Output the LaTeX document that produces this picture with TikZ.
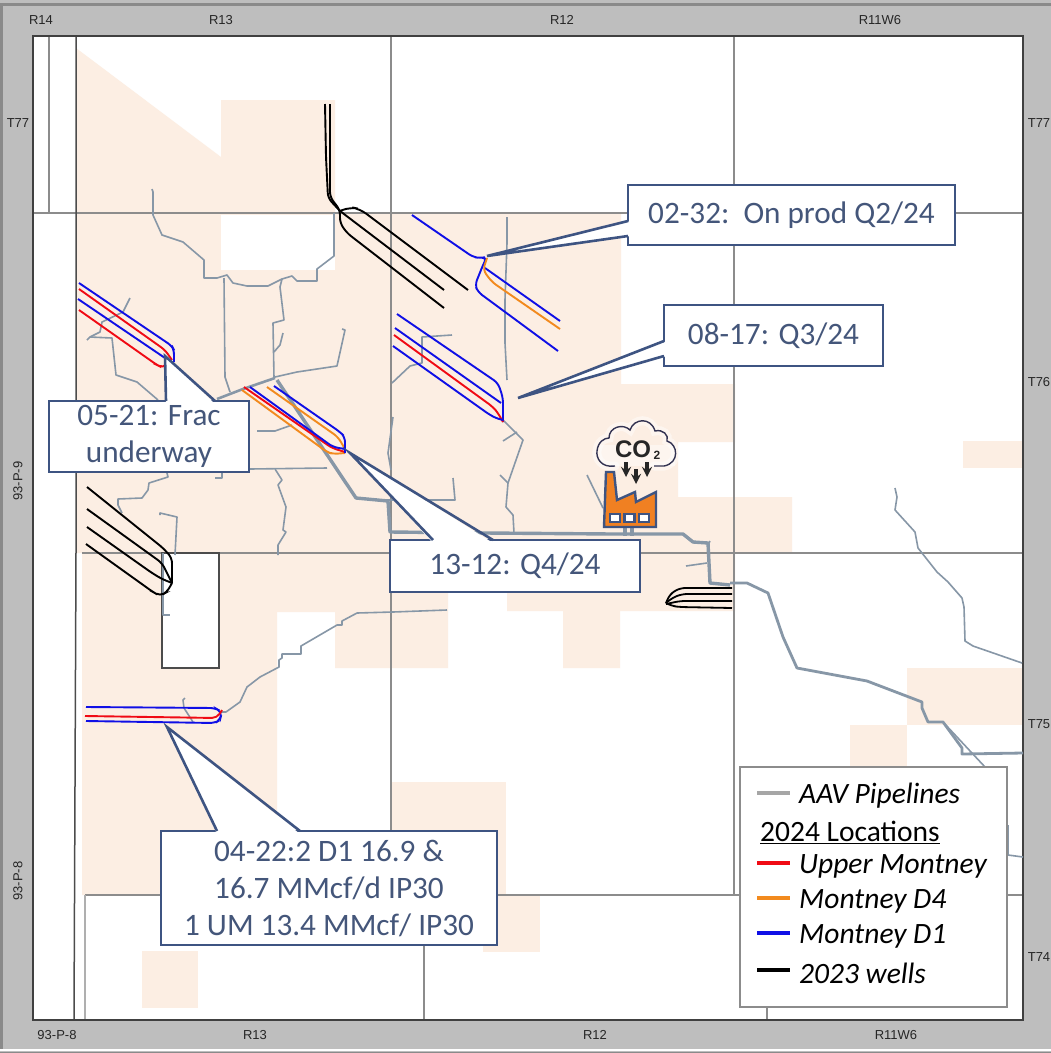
\documentclass[tikz,border=0pt]{standalone}
\usepackage{fontspec}
\setmainfont{Carlito}
\newfontfamily\mapfont{Liberation Sans}
\definecolor{frameg}{HTML}{BEBEBE}
\definecolor{edgeg}{HTML}{8A8A8A}
\definecolor{gridg}{HTML}{8C8C8C}
\definecolor{landc}{HTML}{FCEEE3}
\definecolor{pipec}{HTML}{8797A7}
\definecolor{calloutc}{HTML}{3E5482}
\definecolor{callouttext}{HTML}{44567A}
\definecolor{wellblue}{HTML}{0F0FE6}
\definecolor{wellred}{HTML}{F00A14}
\definecolor{wellorange}{HTML}{F28A1E}
\definecolor{factoryc}{HTML}{F08022}
\tikzset{>=stealth}
\tikzset{
  grid/.style={draw=gridg, line width=1.8pt},
  pipe/.style={draw=pipec, line width=1.6pt, line join=round},
  mainpipe/.style={draw=pipec, line width=3.4pt, line join=round},
  well/.style={line width=1.9pt, rounded corners=5pt},
  calloutbox/.style={draw=calloutc, fill=white, line width=2.6pt, outer sep=0pt, inner sep=0pt,
    text=callouttext, align=center, font=\fontsize{31.2}{37}\selectfont},
  wedgeline/.style={draw=calloutc, line width=2.6pt, line join=miter},
  maplabel/.style={font=\mapfont\fontsize{13}{15}\selectfont, text=black!85},
  legendtext/.style={anchor=west, inner sep=0pt, font=\fontsize{29.5}{34}\selectfont\itshape},
}
\newcommand{\calloutwedge}[5]{
  \fill[white] ([#2,#4]#1) -- (#5) -- ([#3,#4]#1) -- cycle;
  \draw[wedgeline] ([#2]#1) -- (#5) -- ([#3]#1);
}
\newcommand{\cloudpath}{(615,466) .. controls (601,468) and (596,458) .. (597,451)
  .. controls (598,442) and (604,438) .. (609,438)
  .. controls (609,427) and (623,423) .. (630,430)
  .. controls (634,418) and (651,417) .. (655,431)
  .. controls (663,429) and (669,435) .. (667,441)
  .. controls (678,444) and (680,463) .. (664,466) -- (654,466)}
\begin{document}
\begin{tikzpicture}[x=1pt,y=-1pt]
\useasboundingbox (0,0) rectangle (1051,1053);
\fill[frameg] (0,0) rectangle (1051,1053);
\draw[edgeg, line width=3pt] (1.5,1049) -- (1.5,4.5) -- (1051,4.5);
\draw[white, line width=1.5pt] (0,1050) -- (1051,1050);
\draw[edgeg, line width=1.5pt] (0,1052.5) -- (1051,1052.5);
\fill[white] (33,36) rectangle (1023,1020);
% land blocks
\fill[landc] (76,48) -- (221,157) -- (221,100) -- (335,100) -- (335,213) -- (621,213) -- (621,384)
  -- (735,384) -- (735,442) -- (678,442) -- (678,497) -- (792,497) -- (792,553) -- (735,553)
  -- (735,611) -- (620,611) -- (620,668) -- (563,668) -- (563,611) -- (507,611) -- (507,590)
  -- (448,590) -- (448,668) -- (335,668) -- (335,612) -- (277,612) -- (277,895) -- (82,895)
  -- (82,553) -- (76,553) -- cycle;
\fill[white] (221,215) rectangle (335,270);
\fill[landc] (392,782) rectangle (506,895);
\fill[landc] (483,895) rectangle (540,952);
\fill[landc] (142,951) rectangle (198,1008);
\fill[landc] (963,441) rectangle (1023,468);
\fill[landc] (907,668) rectangle (1023,725);
\fill[landc] (850,725) rectangle (907,782);
% township and range lines
\draw[grid] (33,213) -- (1023,213);
\draw[grid] (82,553) -- (1023,553);
\draw[grid] (85,895) -- (1023,895);
\draw[grid] (49,36) -- (49,213);
\draw[grid] (391,36) -- (391,895);
\draw[grid] (734,36) -- (734,895);
\draw[grid] (424,895) -- (424,1020);
\draw[grid] (767,895) -- (767,1020);
\draw[grid, draw=gridg!70] (85,895) -- (85,1020);
\draw[draw=black!70, line width=1.5pt] (76,36) -- (76,553) -- (74,1020);
\draw[draw=black!70, line width=1.4pt, fill=white] (162,553) rectangle (219,668);
\draw[draw=black!75, line width=1.5pt] (33,36) rectangle (1023,1020);
% pipelines
\draw[pipe] (152,189) -- (153,192) -- (153,215) -- (162,235) -- (183,242) -- (204,260) -- (204,278)
  -- (217,278) -- (227,275) -- (233,283) -- (247,286) -- (268,286) -- (282,279) -- (292,276)
  -- (297,281) -- (317,281) -- (317,269) -- (334,256) -- (334,213);
\draw[pipe] (224,278) -- (225,377) -- (230,392);
\draw[pipe] (282,279) -- (280,287) -- (284,320) -- (273,323) -- (274,378);
\draw[pipe] (274,352) -- (280,345) -- (283,333);
\draw[pipe] (275,377) -- (297,372) -- (337,366) -- (345,330) -- (342,329);
\draw[pipe] (130,298) -- (123,312) -- (102,322) -- (100,332) -- (90,337) -- (87,340);
\draw[pipe] (90,337) -- (112,338) -- (116,375) -- (137,382) -- (158,400);
\draw[pipe] (257,431) -- (275,431) -- (292,425);
\draw[pipe] (250,469) -- (327,468);
\draw[pipe] (275,469) -- (282,480) -- (278,485) -- (286,507) -- (283,530) -- (286,532) -- (278,545) -- (278,555);
\draw[pipe] (167,473) -- (168,477) -- (149,483) -- (148,490) -- (142,498) -- (118,499) -- (118,505) -- (122,513);
\draw[pipe] (160,515) -- (160,513) -- (177,517) -- (175,555);
\draw[pipe] (215,478) -- (222,478) -- (222,473);
\draw[pipe] (163,553) -- (163,615) -- (170,615);
\draw[pipe] (447,610) -- (393,612) -- (357,613) -- (342,621) -- (342,625) -- (337,625) -- (301,646)
  -- (301,654) -- (282,654) -- (282,658) -- (279,660) -- (279,667) -- (260,677) -- (247,687)
  -- (240,702) -- (226,712) -- (220,712);
\draw[pipe] (185,698) -- (183,700) -- (184,708) -- (193,722);
\draw[pipe] (507,217) -- (507,243) -- (505,300) -- (505,343) -- (507,380);
\draw[pipe] (503,420) -- (523,440) -- (508,483) -- (506,507) -- (513,515) -- (514,533);
\draw[pipe] (503,441) -- (517,432);
\draw[pipe] (500,475) -- (508,483);
\draw[pipe] (452,335) -- (422,337) -- (422,363) -- (410,366) -- (392,383);
\draw[pipe] (393,417) -- (388,453) -- (391,470);
\draw[pipe] (380,500) -- (455,500) -- (453,478);
\draw[pipe] (587,475) -- (603,508);
\draw[pipe] (686,566) -- (707,563);
\draw[pipe] (708,545) -- (710,541);
\draw[pipe] (895,488) -- (897,497) -- (895,510) -- (915,532) -- (918,548) -- (937,572) -- (948,582)
  -- (962,598) -- (964,607) -- (965,641) -- (973,646) -- (1022,663);
\draw[pipe] (943,722) -- (985,767);
\draw[pipe] (1008,825) -- (1008,855) -- (1023,857);
\draw[mainpipe, line width=2.6pt] (217,399) -- (243,389) -- (275,378);
\draw[mainpipe] (277,380) -- (356,498) -- (388,501) -- (390,532) -- (485,533) -- (613,534) -- (683,534)
  -- (693,542) -- (708,543) -- (710,583) -- (730,585);
\draw[mainpipe, line width=2.8pt] (730,583) -- (747,583) -- (768,593) -- (783,637) -- (797,668)
  -- (867,681) -- (922,702) -- (922,708) -- (928,722) -- (943,722) -- (962,748) -- (962,754) -- (1023,753);
\draw[mainpipe] (625,528) -- (625,536);
\draw[mainpipe] (632,528) -- (632,536);
% 2023 wells
\draw[well] (325,104) -- (326,157) -- (328,198) -- (340,211) -- (444,290);
\draw[well] (330,104) -- (330,197) -- (340,210) -- (340,223) -- (347,233) -- (444,308);
\draw[well, rounded corners=8pt] (340,211) -- (350,207) -- (360,209) -- (468,290);
\draw[well] (87,487) -- (163,548) -- (172,558) -- (172,583);
\draw[well] (87,509) -- (162,563) -- (172,583);
\draw[well] (87,527) -- (152,573) -- (162,579) -- (172,583);
\draw[well] (86,544) -- (153,592) -- (160,596) -- (167,592) -- (172,583);
\draw[well, line width=1.8pt] (732,588) -- (680,588) -- (670,594) -- (666,603);
\draw[well, line width=1.8pt] (732,594) -- (682,594) -- (672,598) -- (666,603);
\draw[well, line width=1.8pt] (732,601) -- (680,601) -- (666,604);
\draw[well, line width=1.8pt] (732,608) -- (680,607) -- (672,606) -- (666,603);
% 2024 locations
\draw[well, wellblue] (412,215) -- (473,257) -- (480,258) -- (487,257) -- (483,265) -- (475,285) -- (478,292) -- (558,351);
\draw[well, wellblue] (485,268) -- (560,321);
\draw[well, wellorange] (487,258) -- (483,270) -- (492,282) -- (560,329);
\draw[well, wellblue] (397,314) -- (498,383) -- (503,398) -- (503,422);
\draw[well, wellblue] (395,328) -- (501,403);
\draw[well, wellred] (394,335) -- (493,407) -- (498,413) -- (503,422);
\draw[well, wellblue] (393,346) -- (490,415) -- (498,419) -- (503,420);
\draw[well, wellblue] (79,283) -- (172,346) -- (174,350) -- (174,362);
\draw[well, wellred] (79,289) -- (165,350) -- (172,360);
\draw[well, wellblue] (78,299) -- (165,358);
\draw[well, wellred] (79,310) -- (157,365) -- (163,368) -- (170,362);
\draw[well, wellorange] (242,390) -- (327,452) -- (333,454) -- (345,453);
\draw[well, wellorange] (267,387) -- (338,437) -- (345,449);
\draw[well, wellred] (244,387) -- (332,448) -- (345,452);
\draw[well, wellblue] (250,387) -- (333,447) -- (345,449);
\draw[well, wellblue] (274,386) -- (340,432) -- (345,437) -- (345,453);
\draw[well, wellblue] (86,707) -- (215,708) -- (222,712) -- (220,720) -- (215,723) -- (86,721);
\draw[well, wellred] (85,716) -- (217,718) -- (222,710);
% margin labels
\foreach \t/\x in {R14/41, R13/221, R12/562, R11W6/880}
  \node[maplabel] at (\x,20) {\t};
\foreach \t/\x in {93-P-8/57, R13/255, R12/595, R11W6/896}
  \node[maplabel] at (\x,1035) {\t};
\foreach \t/\y in {T77/123, T76/382, T75/724, T74/957}
  \node[maplabel] at (1039,\y) {\t};
\node[maplabel] at (18,123) {T77};
\node[maplabel, rotate=90] at (18,481) {93-P-9};
\node[maplabel, rotate=90] at (18,881) {93-P-8};
% legend
\node[draw=gridg, fill=white, line width=2pt, minimum width=267pt, minimum height=240pt, inner sep=0pt] (legendbox) at (873.5,887) {};
\foreach \c/\t/\y in {black!35/AAV Pipelines/796, wellred/Upper Montney/866, wellorange/Montney D4/901, wellblue/Montney D1/936, black/2023 wells/973}{
  \node[legendtext] (legendrow) at (799,\y) {\t};
  \draw[\c, line width=4pt] ([xshift=-42pt,yshift=3pt]legendrow.west) -- ++(33,0);
}
\node[legendtext, font=\fontsize{29.5}{34}\selectfont] at (760,832) {\underline{2024 Locations}};
% factory
\draw[white, opacity=.45, line width=9pt, line cap=round] \cloudpath;
\fill[white, opacity=.45] (600,466) -- (600,445) -- (675,445) -- (675,466) -- cycle;
\draw[black!80!blue!60!gray, line width=1.4pt] \cloudpath;
\node[font=\mapfont\bfseries\fontsize{24}{26}\selectfont, text=black!85, inner sep=0pt] at (633,449) {CO};
\node[font=\mapfont\bfseries\fontsize{12}{14}\selectfont, text=black!85, inner sep=0pt] at (657,455) {2};
\foreach \x/\y in {626/462, 636/469, 647/462}
  \draw[->, black!85, line width=3.4pt] (\x,\y) -- ++(0,15);
\draw[fill=factoryc, draw=calloutc, line width=2.4pt, line join=miter] (604,527) -- (606,472) -- (614,472)
  -- (617,500) -- (635,492) -- (636,502) -- (656,492) -- (656,527) -- cycle;
\foreach \x in {615,629.5,644}
  \draw[fill=white, draw=calloutc, line width=2.6pt] (\x-5,514) rectangle (\x+5,522);
% callouts
\node[calloutbox, minimum width=327pt, minimum height=60pt] (box32) at (791.5,215) {02-32:\ \ On prod Q2/24};
\node[calloutbox, minimum width=219pt, minimum height=61pt] (box17) at (773.5,335.5) {08-17: Q3/24};
\node[calloutbox, minimum width=200pt, minimum height=71pt] (box21) at (149,436.5) {05-21: Frac\\underway};
\node[calloutbox, minimum width=250pt, minimum height=52pt] (box12) at (515,566) {13-12: Q4/24};
\node[calloutbox, minimum width=336pt, minimum height=114pt] (box22) at (329,888) {04-22:2 D1 16.9 \&\\16.7 MMcf/d IP30\\1 UM 13.4 MMcf/ IP30};
\coordinate (tip32) at (487,256);
\coordinate (tip17) at (518,398);
\coordinate (tip21) at (165,356);
\coordinate (tip12) at (350,453);
\coordinate (tip22) at (167,727);
\calloutwedge{box32.north west}{yshift=-36pt}{yshift=-51pt}{xshift=3pt}{tip32}
\calloutwedge{box17.north west}{yshift=-36pt}{yshift=-51pt}{xshift=3pt}{tip17}
\calloutwedge{box21.north west}{xshift=117pt}{xshift=166pt}{yshift=-3pt}{tip21}
\calloutwedge{box12.north west}{xshift=43pt}{xshift=103pt}{yshift=-3pt}{tip12}
\calloutwedge{box22.north west}{xshift=56pt}{xshift=139pt}{yshift=-3pt}{tip22}
\end{tikzpicture}
\end{document}
